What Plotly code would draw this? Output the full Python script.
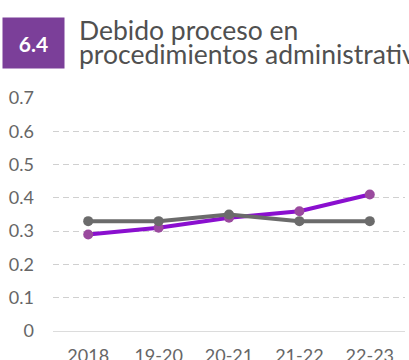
import plotly.graph_objects as go

# Periods and index values
periods = ["2018", "19-20", "20-21", "21-22", "22-23"]
purple_values = [0.29, 0.31, 0.34, 0.36, 0.41]
gray_values = [0.33, 0.33, 0.35, 0.33, 0.33]
y_ticks = [0, 0.1, 0.2, 0.3, 0.4, 0.5, 0.6, 0.7]
y_tick_text = ["0", "0.1", "0.2", "0.3", "0.4", "0.5", "0.6", "0.7"]

W, H = 409, 360
L, R, T, B = 53, 4, 98, 29

fig = go.Figure()
fig.add_trace(go.Scatter(
    x=periods, y=purple_values, mode="lines+markers",
    line=dict(color="#8a0fcf", width=4),
    marker=dict(color="#9a4a9e", size=10),
    hoverinfo="skip",
))
fig.add_trace(go.Scatter(
    x=periods, y=gray_values, mode="lines+markers",
    line=dict(color="#6b6b6b", width=4),
    marker=dict(color="#6b6b6b", size=10),
    hoverinfo="skip",
))

fig.update_layout(
    width=W, height=H,
    margin=dict(l=L, r=R, t=T, b=B, pad=0, autoexpand=False),
    paper_bgcolor="white", plot_bgcolor="white",
    showlegend=False,
    font=dict(family="Lato", color="#666666"),
    xaxis=dict(
        type="category", range=[-0.5, 4.5], automargin=False,
        showgrid=False, zeroline=False, showline=False,
        ticks="", tickfont=dict(size=18, color="#666666"),
        ticklabelstandoff=12,
    ),
    yaxis=dict(
        range=[0, 0.7], tickvals=y_ticks, ticktext=y_tick_text,
        automargin=False,
        showgrid=True, gridcolor="#d0d0d0", gridwidth=1, griddash="6px,4px",
        zeroline=True, zerolinecolor="#dcdcdc", zerolinewidth=1,
        showline=False, ticks="",
        tickfont=dict(size=18, color="#666666"),
        ticklabelstandoff=18,
    ),
)

def px_x(p):
    return (p - L) / (W - L - R)

def px_y(p):
    return 1 - (p - T) / (H - T - B)

# Section badge
fig.add_annotation(
    text="<b>6.4</b>", xref="paper", yref="paper",
    x=px_x(2), y=px_y(17), xanchor="left", yanchor="top",
    width=59, height=48, bgcolor="#7b3f99",
    showarrow=False, font=dict(size=21, color="white", family="Lato"),
    align="center", valign="middle",
)
# Section title, two lines
fig.add_annotation(
    text="Debido proceso en", xref="paper", yref="paper",
    x=px_x(78), y=px_y(13), xanchor="left", yanchor="top",
    showarrow=False, borderpad=0,
    font=dict(size=26.5, color="#505050", family="Lato"),
)
fig.add_annotation(
    text="procedimientos administrativos", xref="paper", yref="paper",
    x=px_x(78), y=px_y(37), xanchor="left", yanchor="top",
    showarrow=False, borderpad=0,
    font=dict(size=26.5, color="#505050", family="Lato"),
)

fig.write_html("out.html")
